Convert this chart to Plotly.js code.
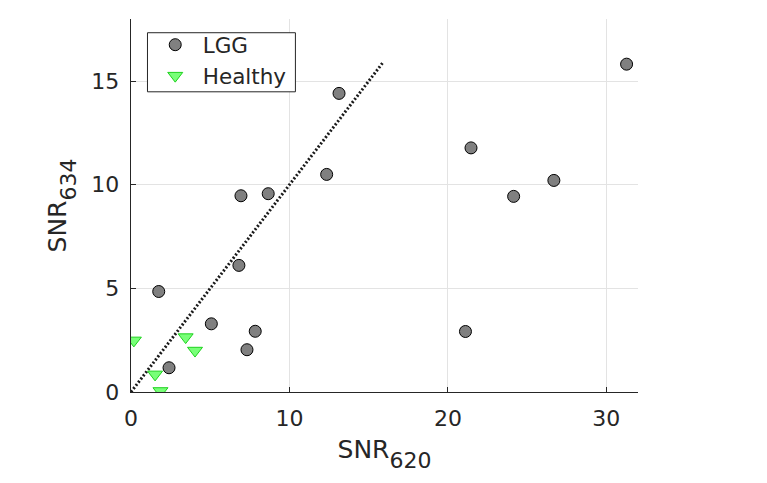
<!DOCTYPE html>
<html>
<head>
<meta charset="utf-8">
<script src="https://cdn.plot.ly/plotly-3.0.1.min.js"></script>
<style>html,body{margin:0;padding:0;background:#fff;}#chart{width:767px;height:483px;}</style>
</head>
<body>
<div id="chart"></div>
<script>
const lggX = [1.75, 5.07, 7.84, 7.32, 2.40, 6.94, 8.66, 6.81, 12.35, 13.13, 31.28, 21.46, 26.69, 24.15, 21.11];
const lggY = [4.85, 3.29, 2.93, 2.04, 1.17, 9.47, 9.57, 6.11, 10.50, 14.41, 15.82, 11.78, 10.21, 9.44, 2.92];
const healthyX = [0.18, 3.45, 4.04, 1.52, 1.86];
const healthyY = [2.49, 2.65, 2.00, 0.85, 0.05];
const identityX = [0, 15.9];
const identityY = [0, 15.9];
const xTicks = [0, 10, 20, 30];
const yTicks = [0, 5, 10, 15];

const font = "DejaVu Sans, sans-serif";
const data = [
  {x: identityX, y: identityY, mode: 'lines', showlegend: false, hoverinfo: 'skip',
   line: {color: '#1a1a1a', width: 3, dash: '2px,2px'}},
  {x: lggX, y: lggY, mode: 'markers', name: 'LGG',
   marker: {symbol: 'circle', size: 12, color: 'rgb(128,128,128)', line: {color: '#000', width: 1}}},
  {x: healthyX, y: healthyY, mode: 'markers', name: 'Healthy',
   marker: {symbol: 'triangle-down', size: 13, color: 'rgb(120,255,120)', line: {color: 'rgb(30,210,30)', width: 1}}}
];
const axisCommon = {
  showline: true, linecolor: '#262626', linewidth: 1.3, mirror: false,
  ticks: 'inside', ticklen: 5, tickcolor: '#262626',
  showgrid: true, gridcolor: '#e3e3e3', gridwidth: 1, zeroline: false,
  tickfont: {family: font, size: 22, color: '#262626'}
};
const subStyle = 'font-size:22px;baseline-shift:-5px';
const layout = {
  width: 767, height: 483,
  margin: {l: 130.5, r: 129.3, t: 19.3, b: 91.3},
  paper_bgcolor: '#fff', plot_bgcolor: '#fff',
  showlegend: true,
  legend: {x: 0.033, y: 0.986, xanchor: 'left', yanchor: 'top',
    bordercolor: 'rgba(0,0,0,0)', borderwidth: 0, bgcolor: 'rgba(0,0,0,0)',
    font: {family: font, size: 21.5, color: '#262626'}, tracegroupgap: 0, itemwidth: 45},
  shapes: [{type: 'rect', xref: 'paper', yref: 'paper', x0: 0.0325, x1: 0.3243, y0: 0.8048, y1: 0.9632,
    layer: 'above', fillcolor: '#fff', line: {color: '#262626', width: 1}}],
  xaxis: Object.assign({}, axisCommon, {range: [0, 32], tickvals: xTicks, ticklabelstandoff: 6,
    title: {text: 'SNR<sub><span style="' + subStyle + '">620</span></sub>', font: {family: font, size: 25, color: '#262626'}, standoff: 10}}),
  yaxis: Object.assign({}, axisCommon, {range: [0, 18], tickvals: yTicks, ticklabelstandoff: 6,
    title: {text: 'SNR<sub><span style="' + subStyle + '">634</span></sub>', font: {family: font, size: 25, color: '#262626'}, standoff: 17}})
};
Plotly.newPlot('chart', data, layout, {displayModeBar: false, staticPlot: true});
</script>
</body>
</html>
